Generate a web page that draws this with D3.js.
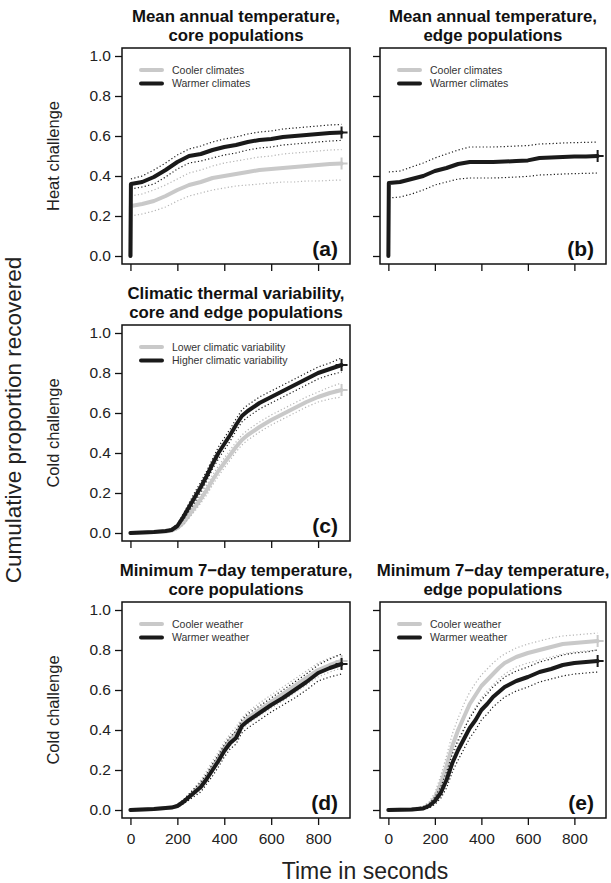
<!DOCTYPE html>
<html>
<head>
<meta charset="utf-8">
<script src="https://cdn.jsdelivr.net/npm/d3@7"></script>
<style>
  body { margin: 0; background: #fff; }
  svg { display: block; font-family: "Liberation Sans", Arial, sans-serif; }
</style>
</head>
<body>
<svg id="chart" width="611" height="883"></svg>
<script>
// time grids (seconds)
const timeHeat = [0, 2, 50, 100, 150, 200, 250, 300, 350, 400, 450, 500, 550, 600, 650, 700, 750, 800, 850, 900];
const timeCold = [0, 100, 150, 175, 200, 225, 250, 275, 300, 325, 350, 375, 400, 425, 450, 475, 500, 550, 600, 650, 700, 750, 800, 850, 900];

// (a) mean annual temperature, core
const coolA   = [0, 0.25, 0.26, 0.275, 0.30, 0.33, 0.355, 0.37, 0.39, 0.40, 0.41, 0.42, 0.43, 0.435, 0.44, 0.445, 0.45, 0.455, 0.46, 0.462];
const coolAHi = [null, 0.30, 0.31, 0.33, 0.355, 0.385, 0.415, 0.43, 0.45, 0.465, 0.475, 0.485, 0.495, 0.50, 0.51, 0.515, 0.52, 0.525, 0.53, 0.532];
const coolALo = [null, 0.20, 0.21, 0.225, 0.245, 0.275, 0.30, 0.315, 0.33, 0.34, 0.35, 0.355, 0.36, 0.365, 0.37, 0.37, 0.375, 0.375, 0.378, 0.38];
const warmA   = [0, 0.36, 0.37, 0.395, 0.43, 0.47, 0.50, 0.51, 0.53, 0.545, 0.555, 0.57, 0.58, 0.585, 0.595, 0.60, 0.605, 0.61, 0.615, 0.618];
const warmAHi = [null, 0.385, 0.40, 0.43, 0.465, 0.505, 0.535, 0.55, 0.57, 0.585, 0.595, 0.61, 0.62, 0.625, 0.635, 0.64, 0.645, 0.65, 0.655, 0.658];
const warmALo = [null, 0.335, 0.345, 0.36, 0.395, 0.435, 0.465, 0.475, 0.49, 0.505, 0.515, 0.53, 0.54, 0.545, 0.555, 0.56, 0.565, 0.57, 0.575, 0.578];

// (b) mean annual temperature, edge (cooler curve lies under the warmer one)
const warmB   = [0, 0.365, 0.37, 0.385, 0.40, 0.425, 0.44, 0.46, 0.47, 0.47, 0.47, 0.472, 0.475, 0.478, 0.49, 0.492, 0.495, 0.497, 0.498, 0.50];
const warmBHi = [null, 0.42, 0.425, 0.445, 0.465, 0.49, 0.51, 0.53, 0.545, 0.545, 0.545, 0.547, 0.55, 0.552, 0.56, 0.562, 0.565, 0.567, 0.568, 0.57];
const warmBLo = [null, 0.29, 0.295, 0.31, 0.33, 0.355, 0.37, 0.385, 0.39, 0.39, 0.39, 0.392, 0.395, 0.398, 0.405, 0.407, 0.41, 0.412, 0.413, 0.415];

// (c) climatic thermal variability
const lowC    = [0, 0.005, 0.008, 0.012, 0.025, 0.05, 0.09, 0.13, 0.17, 0.215, 0.265, 0.31, 0.35, 0.39, 0.43, 0.465, 0.49, 0.53, 0.565, 0.595, 0.625, 0.655, 0.68, 0.70, 0.715];
const lowCHi  = [0, 0.006, 0.01, 0.016, 0.032, 0.062, 0.105, 0.15, 0.19, 0.24, 0.29, 0.335, 0.375, 0.415, 0.455, 0.49, 0.515, 0.555, 0.59, 0.62, 0.65, 0.68, 0.705, 0.73, 0.75];
const lowCLo  = [0, 0.004, 0.006, 0.008, 0.018, 0.04, 0.075, 0.11, 0.15, 0.19, 0.24, 0.285, 0.325, 0.365, 0.405, 0.44, 0.465, 0.505, 0.54, 0.57, 0.60, 0.63, 0.655, 0.67, 0.68];
const highC   = [0, 0.005, 0.01, 0.015, 0.035, 0.08, 0.13, 0.18, 0.23, 0.285, 0.345, 0.40, 0.445, 0.49, 0.54, 0.585, 0.61, 0.65, 0.68, 0.71, 0.74, 0.77, 0.80, 0.82, 0.84];
const highCHi = [0, 0.006, 0.013, 0.02, 0.045, 0.095, 0.15, 0.205, 0.255, 0.31, 0.37, 0.43, 0.475, 0.52, 0.57, 0.615, 0.64, 0.68, 0.71, 0.74, 0.77, 0.80, 0.83, 0.85, 0.875];
const highCLo = [0, 0.004, 0.007, 0.01, 0.027, 0.065, 0.11, 0.155, 0.205, 0.26, 0.32, 0.37, 0.415, 0.46, 0.51, 0.555, 0.58, 0.62, 0.65, 0.68, 0.71, 0.74, 0.77, 0.79, 0.805];

// (d) minimum 7-day temperature, core
const coolD   = [0, 0.005, 0.01, 0.012, 0.02, 0.04, 0.065, 0.095, 0.125, 0.165, 0.215, 0.26, 0.31, 0.35, 0.385, 0.43, 0.46, 0.50, 0.54, 0.58, 0.62, 0.66, 0.70, 0.725, 0.745];
const coolDHi = [0, 0.006, 0.012, 0.015, 0.026, 0.05, 0.08, 0.115, 0.15, 0.195, 0.245, 0.29, 0.34, 0.38, 0.415, 0.46, 0.49, 0.535, 0.575, 0.615, 0.655, 0.695, 0.735, 0.76, 0.78];
const coolDLo = [0, 0.004, 0.008, 0.009, 0.014, 0.03, 0.05, 0.075, 0.10, 0.14, 0.185, 0.23, 0.28, 0.32, 0.355, 0.40, 0.43, 0.47, 0.51, 0.545, 0.585, 0.625, 0.665, 0.69, 0.71];
const warmD   = [0, 0.005, 0.01, 0.012, 0.02, 0.04, 0.065, 0.09, 0.115, 0.155, 0.20, 0.245, 0.295, 0.335, 0.36, 0.42, 0.445, 0.485, 0.525, 0.56, 0.60, 0.64, 0.685, 0.71, 0.73];
const warmDHi = [0, 0.006, 0.012, 0.015, 0.026, 0.05, 0.08, 0.11, 0.14, 0.18, 0.23, 0.275, 0.325, 0.365, 0.395, 0.45, 0.48, 0.52, 0.56, 0.60, 0.64, 0.68, 0.725, 0.755, 0.78];
const warmDLo = [0, 0.004, 0.008, 0.009, 0.014, 0.03, 0.05, 0.07, 0.09, 0.13, 0.17, 0.215, 0.265, 0.305, 0.33, 0.385, 0.41, 0.45, 0.49, 0.525, 0.56, 0.60, 0.645, 0.665, 0.68];

// (e) minimum 7-day temperature, edge
const coolE   = [0, 0.002, 0.01, 0.025, 0.06, 0.13, 0.22, 0.32, 0.40, 0.465, 0.53, 0.575, 0.62, 0.65, 0.68, 0.71, 0.735, 0.765, 0.785, 0.80, 0.815, 0.83, 0.835, 0.84, 0.845];
const coolEHi = [0, 0.004, 0.02, 0.04, 0.085, 0.17, 0.27, 0.38, 0.46, 0.53, 0.59, 0.635, 0.675, 0.705, 0.735, 0.76, 0.78, 0.81, 0.83, 0.845, 0.86, 0.87, 0.875, 0.88, 0.885];
const coolELo = [0, 0.001, 0.004, 0.012, 0.035, 0.09, 0.17, 0.26, 0.335, 0.40, 0.465, 0.515, 0.56, 0.595, 0.625, 0.655, 0.68, 0.715, 0.735, 0.75, 0.765, 0.78, 0.79, 0.795, 0.80];
const warmE   = [0, 0.002, 0.008, 0.02, 0.045, 0.085, 0.15, 0.235, 0.30, 0.355, 0.41, 0.45, 0.50, 0.53, 0.565, 0.59, 0.615, 0.645, 0.665, 0.69, 0.705, 0.725, 0.735, 0.74, 0.745];
const warmEHi = [0, 0.004, 0.015, 0.03, 0.065, 0.115, 0.19, 0.28, 0.35, 0.405, 0.46, 0.505, 0.55, 0.58, 0.615, 0.64, 0.665, 0.695, 0.715, 0.74, 0.755, 0.775, 0.785, 0.79, 0.80];
const warmELo = [0, 0.001, 0.003, 0.01, 0.028, 0.058, 0.11, 0.19, 0.25, 0.305, 0.36, 0.40, 0.45, 0.48, 0.515, 0.54, 0.565, 0.595, 0.615, 0.64, 0.655, 0.67, 0.68, 0.685, 0.69];

const yTicks = [0, 0.2, 0.4, 0.6, 0.8, 1.0];
const xTicks = [0, 200, 400, 600, 800];

const GRAY = '#c9c9c9', BLACK = '#1a1a1a';
const svg = d3.select('#chart');

const panels = [
  { col: 0, row: 0, tag: '(a)', title: ['Mean annual temperature,', 'core populations'],
    legend: ['Cooler climates', 'Warmer climates'], ylab: 'Heat challenge', xlabels: false, time: timeHeat,
    series: [{ color: GRAY, v: coolA, hi: coolAHi, lo: coolALo, ci: '#b5b5b5' },
             { color: BLACK, v: warmA, hi: warmAHi, lo: warmALo, ci: BLACK }] },
  { col: 1, row: 0, tag: '(b)', title: ['Mean annual temperature,', 'edge populations'],
    legend: ['Cooler climates', 'Warmer climates'], ylab: null, xlabels: false, time: timeHeat,
    series: [{ color: BLACK, v: warmB, hi: warmBHi, lo: warmBLo, ci: BLACK }] },
  { col: 0, row: 1, tag: '(c)', title: ['Climatic thermal variability,', 'core and edge populations'],
    legend: ['Lower climatic variability', 'Higher climatic variability'], ylab: 'Cold challenge', xlabels: false, time: timeCold,
    series: [{ color: GRAY, v: lowC, hi: lowCHi, lo: lowCLo, ci: '#b5b5b5' },
             { color: BLACK, v: highC, hi: highCHi, lo: highCLo, ci: BLACK }] },
  { col: 0, row: 2, tag: '(d)', title: ['Minimum 7\u2212day temperature,', 'core populations'],
    legend: ['Cooler weather', 'Warmer weather'], ylab: 'Cold challenge', xlabels: true, time: timeCold,
    series: [{ color: GRAY, v: coolD, hi: coolDHi, lo: coolDLo, ci: '#b5b5b5' },
             { color: BLACK, v: warmD, hi: warmDHi, lo: warmDLo, ci: BLACK }] },
  { col: 1, row: 2, tag: '(e)', title: ['Minimum 7\u2212day temperature,', 'edge populations'],
    legend: ['Cooler weather', 'Warmer weather'], ylab: null, xlabels: true, time: timeCold,
    series: [{ color: GRAY, v: coolE, hi: coolEHi, lo: coolELo, ci: '#b5b5b5' },
             { color: BLACK, v: warmE, hi: warmEHi, lo: warmELo, ci: BLACK }] }
];

const colX = [[122, 350], [380, 606]];
const rowY = [[48, 264], [325, 541], [602, 818]];

function drawPanel(p) {
  const [x0, x1] = colX[p.col];
  const [y0, y1] = rowY[p.row];
  const x = d3.scaleLinear().domain([-36, 936]).range([x0, x1]);
  const y = d3.scaleLinear().domain([-0.04, 1.04]).range([y1, y0]);
  const g = svg.append('g');

  // axes: ticks outward, labels only where needed
  const ya = d3.axisLeft(y).tickValues(yTicks).tickSize(7).tickPadding(4)
    .tickFormat(p.col === 0 ? d3.format('.1f') : () => '');
  const xa = d3.axisBottom(x).tickValues(xTicks).tickSize(7).tickPadding(6)
    .tickFormat(p.xlabels ? d3.format('d') : () => '');
  const gy = g.append('g').attr('transform', `translate(${x0},0)`).call(ya);
  const gx = g.append('g').attr('transform', `translate(0,${y1})`).call(xa);
  [gy, gx].forEach(a => {
    a.select('.domain').remove();
    a.selectAll('line').attr('stroke', '#111').attr('stroke-width', 1.3);
    a.selectAll('text').attr('fill', '#222').style('font-size', '15.5px');
  });
  gx.selectAll('text').attr('dy', '0.85em');

  // curves
  const line = d3.line()
    .defined(d => d[1] != null)
    .x(d => x(d[0])).y(d => y(d[1]));
  p.series.forEach(s => {
    const pts = k => p.time.map((t, i) => [t, s[k][i]]);
    g.append('path').attr('d', line(pts('v')))
      .attr('fill', 'none').attr('stroke', s.color).attr('stroke-width', 4)
      .attr('stroke-linejoin', 'round').attr('stroke-linecap', 'round');
    ['hi', 'lo'].forEach(k => {
      g.append('path').attr('d', line(pts(k)))
        .attr('fill', 'none').attr('stroke', s.ci).attr('stroke-width', 1.2)
        .attr('stroke-dasharray', '1.2,2.3');
    });
    // censor mark at the end
    const n = p.time.length - 1;
    const cx = x(p.time[n]), cy = y(s.v[n]);
    g.append('path').attr('d', `M${cx - 6},${cy}H${cx + 6}M${cx},${cy - 6}V${cy + 6}`)
      .attr('stroke', s.color).attr('stroke-width', 2);
  });

  // box
  g.append('rect').attr('x', x0).attr('y', y0).attr('width', x1 - x0).attr('height', y1 - y0)
    .attr('fill', 'none').attr('stroke', '#111').attr('stroke-width', 1.5);

  // legend
  [GRAY, BLACK].forEach((c, i) => {
    const ly = y0 + 22 + i * 13.5;
    g.append('line').attr('x1', x0 + 19).attr('x2', x0 + 40).attr('y1', ly).attr('y2', ly)
      .attr('stroke', c).attr('stroke-width', 4).attr('stroke-linecap', 'round');
    g.append('text').attr('x', x0 + 50).attr('y', ly + 3.8).text(p.legend[i])
      .attr('fill', '#333').style('font-size', '10.5px');
  });

  // panel tag
  g.append('text').attr('x', x1 - 12).attr('y', y1 - 8).attr('text-anchor', 'end')
    .style('font-size', '21px').style('font-weight', 'bold').attr('fill', '#111').text(p.tag);

  // title
  p.title.forEach((t, i) => {
    g.append('text').attr('x', (x0 + x1) / 2).attr('y', y0 - 26 + i * 18.5)
      .attr('text-anchor', 'middle').style('font-size', '16.8px').style('font-weight', 'bold')
      .attr('fill', '#111').text(t);
  });

  if (p.ylab) {
    g.append('text').attr('transform', `translate(59,${(y0 + y1) / 2}) rotate(-90)`)
      .attr('text-anchor', 'middle').style('font-size', '16.5px').attr('fill', '#222').text(p.ylab);
  }
}

panels.forEach(drawPanel);

svg.append('text').attr('transform', 'translate(21,420) rotate(-90)')
  .attr('text-anchor', 'middle').style('font-size', '22.5px').attr('fill', '#222')
  .text('Cumulative proportion recovered');
svg.append('text').attr('x', 365).attr('y', 879).attr('text-anchor', 'middle')
  .style('font-size', '23px').attr('fill', '#222').text('Time in seconds');
</script>
</body>
</html>
